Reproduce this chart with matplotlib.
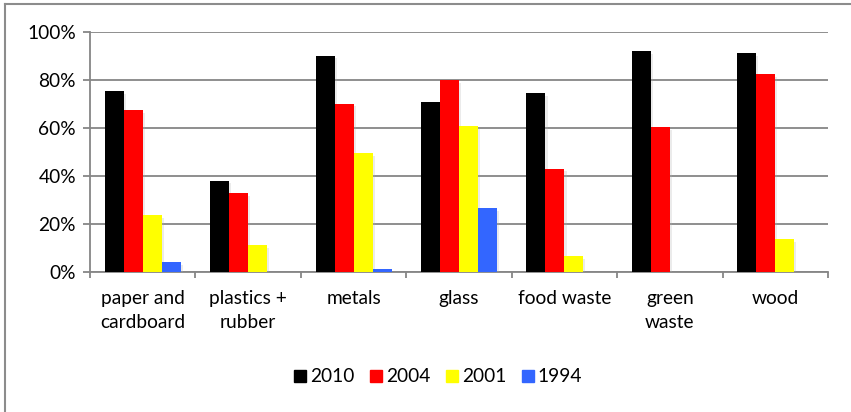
import numpy as np
import matplotlib.pyplot as plt
import matplotlib.patheffects as pe
from matplotlib.ticker import PercentFormatter, FixedLocator
from matplotlib.lines import Line2D

plt.rcParams['font.family'] = ['Lato', 'DejaVu Sans']

# categories and values (fraction of waste recycled)
categories = ['paper and\ncardboard', 'plastics +\nrubber', 'metals', 'glass',
              'food waste', 'green\nwaste', 'wood']
years = ['2010', '2004', '2001', '1994']
colors = ['#000000', '#FF0000', '#FFFF00', '#3366FF']

v2010 = [0.754, 0.382, 0.903, 0.711, 0.747, 0.923, 0.914]
v2004 = [0.676, 0.330, 0.703, 0.801, 0.432, 0.605, 0.825]
v2001 = [0.237, 0.114, 0.497, 0.611, 0.067, 0.0, 0.139]
v1994 = [0.042, 0.0, 0.014, 0.267, 0.0, 0.0, 0.0]
series = [v2010, v2004, v2001, v1994]

fig = plt.figure(figsize=(8.51, 4.12), dpi=100)
ax = fig.add_axes([90/851, 1 - 272.3/412, (828 - 90)/851, 240/412])

grey = '#868686'
fs = 13.8
x = np.arange(len(categories))
w = 0.18
shadow = [pe.SimplePatchShadow(offset=(1.5, -2), shadow_rgbFace='#b0b0b0', alpha=0.25), pe.Normal()]
for k, (vals, col) in enumerate(zip(series, colors)):
    bars = ax.bar(x + (k - 1.5) * w, vals, width=w, color=col, zorder=3)
    for b in bars:
        if b.get_height() > 0:
            b.set_path_effects(shadow)

ax.set_xlim(-0.5, len(categories) - 0.5)
ax.set_ylim(0, 1)
ax.set_yticks(np.arange(0, 1.01, 0.2))
ax.yaxis.set_major_formatter(PercentFormatter(1.0, decimals=0))
ax.yaxis.grid(True, color=grey, linewidth=1.3, zorder=0)
ax.set_axisbelow(True)

ax.set_xticks(x)
ax.set_xticklabels(categories, fontsize=fs, linespacing=1.5)
ax.xaxis.set_minor_locator(FixedLocator(np.arange(-0.5, len(categories), 1.0)))
ax.tick_params(axis='x', which='major', length=0, pad=13)
ax.tick_params(axis='x', which='minor', length=4, color=grey, width=1.3)
ax.tick_params(axis='y', length=5, color=grey, width=1.3, labelsize=fs, pad=5)

for s in ['top', 'right']:
    ax.spines[s].set_visible(False)
for s in ['left', 'bottom']:
    ax.spines[s].set_color(grey)
    ax.spines[s].set_linewidth(1.3)

handles = [Line2D([], [], marker='s', linestyle='none', markersize=9,
                  markerfacecolor=c, markeredgecolor=c) for c in colors]
fig.legend(handles, years, loc='center', bbox_to_anchor=(437/851, 1 - 377/412),
           ncol=4, frameon=False, fontsize=fs, handletextpad=0.05,
           columnspacing=0.7, handlelength=0.9)

# outer chart border (only top and left edges visible in the crop)
fig.add_artist(Line2D([5/851, 5/851], [0, 1 - 3.5/412], transform=fig.transFigure,
                      color='#8c8c8c', linewidth=1.5))
fig.add_artist(Line2D([5/851, 1], [1 - 3.5/412, 1 - 3.5/412], transform=fig.transFigure,
                      color='#8c8c8c', linewidth=1.5))

fig.savefig('out.png', dpi=100)
